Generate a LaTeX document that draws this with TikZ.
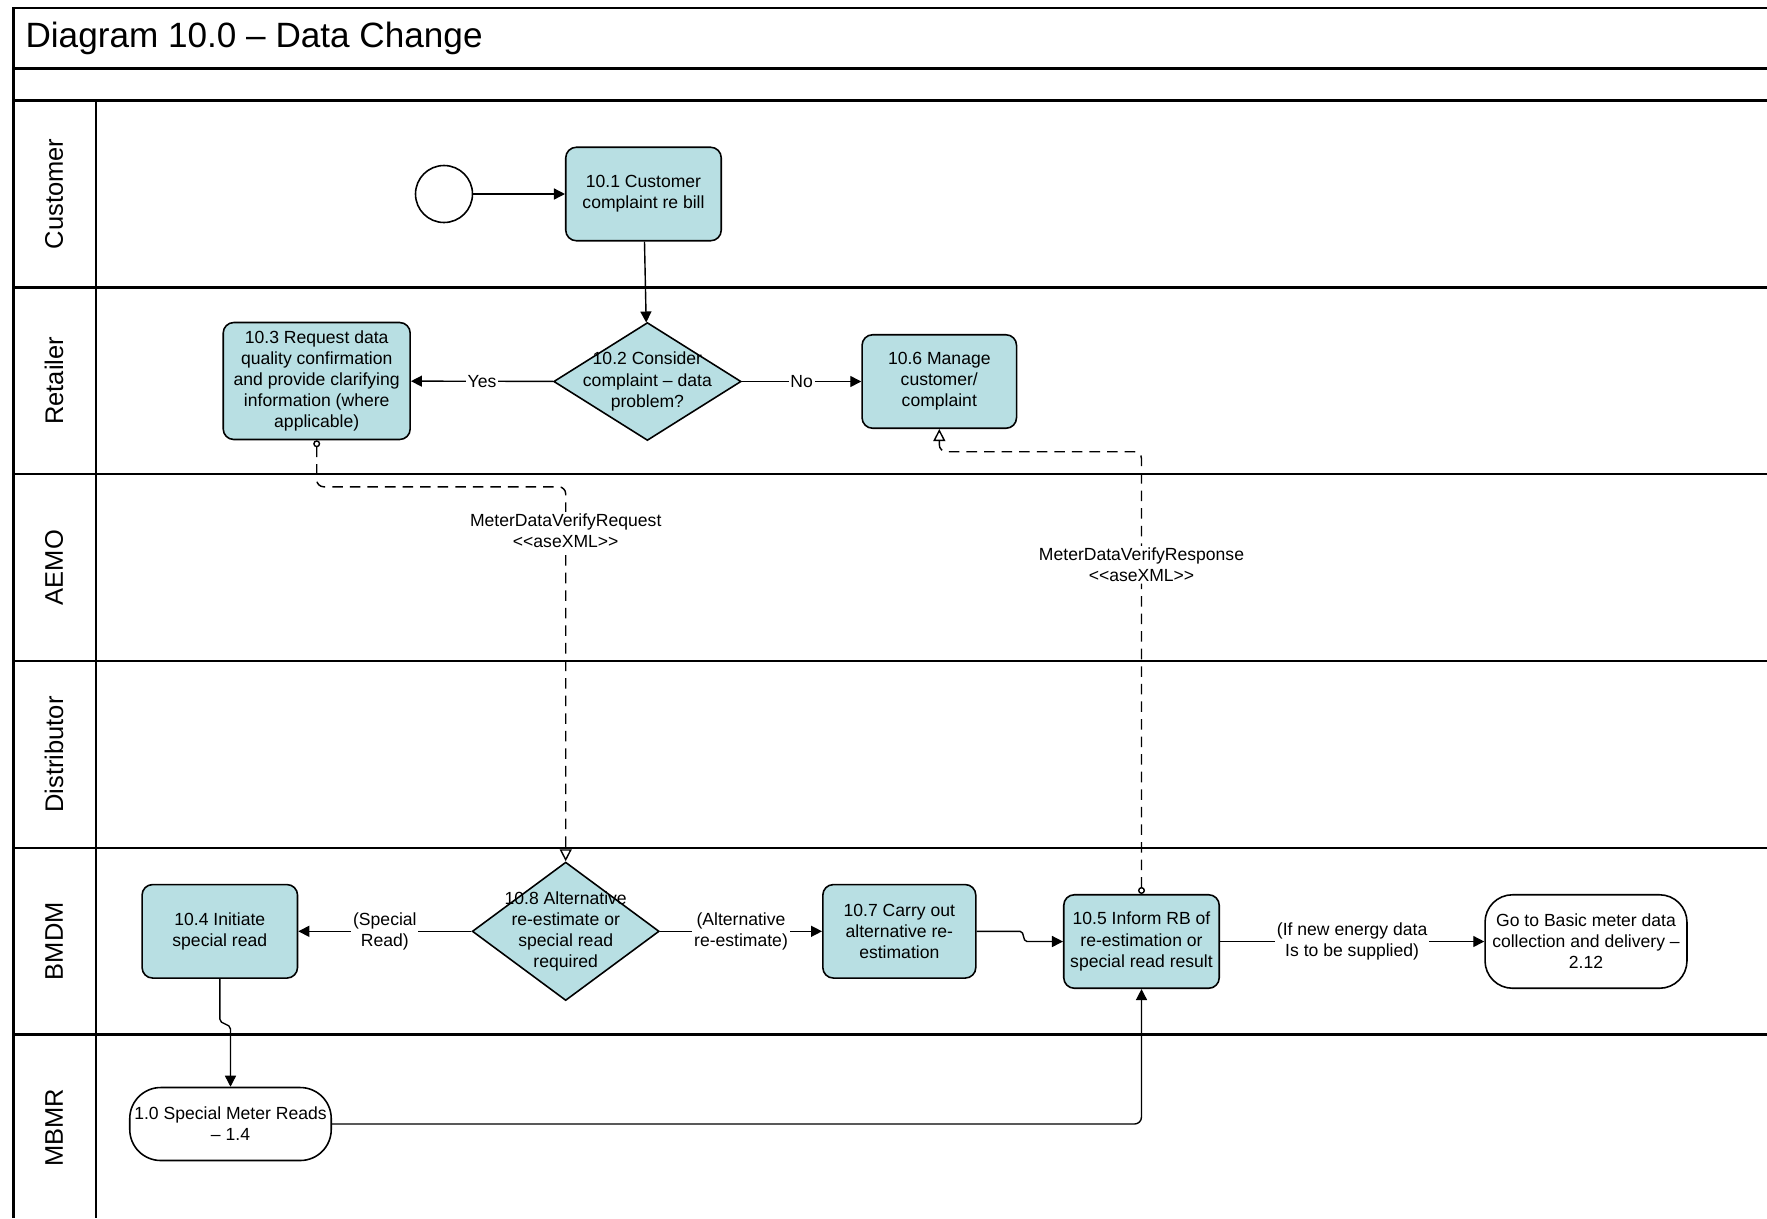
\documentclass[tikz,border=0pt]{standalone}
\usepackage{fontspec}
\setmainfont{Liberation Sans}
\usetikzlibrary{shapes.geometric, arrows.meta}
\definecolor{stepfill}{RGB}{184,223,227}
\tikzstyle{process} = [rectangle, rounded corners=6pt, minimum width=3.11cm, minimum height=1.87cm, text centered, align=center, inner sep=0pt, draw=black, line width=0.9pt, fill=stepfill]
\tikzstyle{decision} = [diamond, minimum width=3.75cm, minimum height=2.36cm, inner sep=0pt, draw=black, line width=0.9pt, fill=stepfill]
\tikzstyle{terminal} = [rectangle, rounded corners=0.55cm, minimum width=4.04cm, minimum height=1.87cm, align=center, inner sep=0pt, draw=black, line width=0.9pt, fill=white]
\tikzstyle{startevent} = [circle, minimum size=1.14cm, inner sep=0pt, draw=black, line width=0.9pt]
\tikzstyle{line} = [draw, -{Triangle[length=2.2mm,width=2.2mm]}]
\tikzstyle{msg} = [draw, dash pattern=on 6pt off 4pt, rounded corners=4pt, {Circle[open,length=1.4mm]}-{Triangle[open,length=2.4mm,width=2.4mm]}]
\tikzstyle{lbl} = [fill=white, inner sep=1pt, align=center]
\tikzstyle{lane} = [line width=1.4pt]
\tikzstyle{lanename} = [rotate=90, font=\fontsize{14.5}{17}\selectfont]

\begin{document}
\begin{tikzpicture}[x=0.02cm, y=-0.02cm, line width=0.8pt, font=\fontsize{10}{12}\selectfont]
    \useasboundingbox (0,0) rectangle (1767,1218);

    % Pool and lanes
    \draw [lane] (1767,7.9) -- (13.5,7.9) -- (13.5,1218);
    \draw [lane] (13.5,68.7) -- (1767,68.7);
    \draw [lane] (13.5,100.5) -- (1767,100.5);
    \draw [lane] (13.5,287.3) -- (1767,287.3);
    \draw [lane] (13.5,474.2) -- (1767,474.2);
    \draw [lane] (13.5,661) -- (1767,661);
    \draw [lane] (13.5,847.8) -- (1767,847.8);
    \draw [lane] (13.5,1034.6) -- (1767,1034.6);
    \draw [lane] (95.8,100.5) -- (95.8,1218);

    \node (title) [anchor=west, font=\fontsize{20}{24}\selectfont] at (19,38.5) {Diagram 10.0 -- Data Change};
    \node (l1) [lanename] at (54,193.9) {Customer};
    \node (l2) [lanename] at (54,380.8) {Retailer};
    \node (l3) [lanename] at (54,567.6) {AEMO};
    \node (l4) [lanename] at (54,754.4) {Distributor};
    \node (l5) [lanename] at (54,941.2) {BMDM};
    \node (l6) [lanename] at (54,1128) {MBMR};

    % Main flow
    \node (c1)   [startevent] at (444,194) {};
    \node (p101) [process] at (643.5,194) {10.1 Customer\\complaint re bill};
    \node (d102) [decision, label={[align=center]center:{10.2 Consider\\complaint -- data\\problem?}}] at (647.4,381.5) {};
    \node (p103) [process, minimum width=3.74cm, minimum height=2.34cm] at (316.7,381) {10.3 Request data\\quality confirmation\\and provide clarifying\\information (where\\applicable)};
    \node (p106) [process, minimum width=3.09cm] at (939.3,381.5) {10.6 Manage\\customer/\\complaint};
    \node (d108) [decision, minimum width=3.74cm, minimum height=2.77cm, label={[align=center]center:{10.8 Alternative\\re-estimate or\\special read\\required}}] at (565.7,931.3) {};
    \node (p104) [process] at (219.8,931.3) {10.4 Initiate\\special read};
    \node (p107) [process, minimum width=3.06cm] at (899.3,931.3) {10.7 Carry out\\alternative re-\\estimation};
    \node (p105) [process] at (1141.5,941.5) {10.5 Inform RB of\\re-estimation or\\special read result};
    \node (t212) [terminal] at (1586,941.5) {Go to Basic meter data\\collection and delivery --\\2.12};
    \node (t10)  [terminal, minimum width=4.03cm, minimum height=1.46cm, rounded corners=0.62cm] at (230.5,1124) {1.0 Special Meter Reads\\-- 1.4};

    \coordinate (m1) at (565.7,486.8);
    \coordinate (m2) at (1141.5,451.7);
    \coordinate (j1) at (1020,931.3);
    \coordinate (j2) at (1027,941.5);
    \coordinate (j3) at (219.8,1019);
    \coordinate (j4) at (230.5,1029);

    % Draw edges
    \path [line] (c1) -- (p101);
    \path [line] (p101) -- (d102);
    \path [line] (d102) -- node [lbl] {Yes} (p103);
    \path [line] (d102) -- node [lbl] {No} (p106);
    \path [line] (d108) -- node [lbl] {(Special\\Read)} (p104);
    \path [line] (d108) -- node [lbl] {(Alternative\\re-estimate)} (p107);
    \path [line] (p107.east) -- (j1) to[out=0, in=180] (j2) -- (p105.west);
    \path [line] (p105) -- node [lbl] {(If new energy data\\Is to be supplied)} (t212);
    \path [line] (p104.south) -- (j3) to[out=-90, in=90] (j4) -- (t10.north);
    \path [line, rounded corners=4pt] (t10.east) -| (p105.south);

    \path [msg] (p103.south) |- (m1) -- node [lbl, pos=0.118] {MeterDataVerifyRequest\\<{}<aseXML>{}>} (d108.north);
    \path [msg] (p105.north) -- node [lbl, pos=0.744] {MeterDataVerifyResponse\\<{}<aseXML>{}>} (m2) -| (p106.south);
\end{tikzpicture}
\end{document}
